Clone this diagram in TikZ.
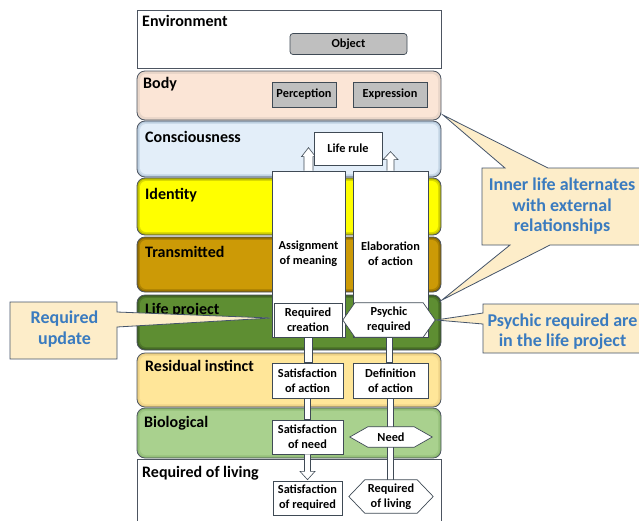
\documentclass[tikz,border=0pt]{standalone}
\usepackage{fontspec}
\setmainfont{Carlito}
\usetikzlibrary{calc}
\definecolor{bodyc}{HTML}{FBE5D6}
\definecolor{consc}{HTML}{E3EEF9}
\definecolor{consedge}{HTML}{B4C7DA}
\definecolor{idc}{HTML}{FFFF00}
\definecolor{idedge}{HTML}{B5B500}
\definecolor{trc}{HTML}{CC9A06}
\definecolor{tredge}{HTML}{8A6700}
\definecolor{lpc}{HTML}{5E8E32}
\definecolor{lpedge}{HTML}{3C5E20}
\definecolor{ric}{HTML}{FFE699}
\definecolor{riedge}{HTML}{E8CC80}
\definecolor{bioc}{HTML}{A9D18E}
\definecolor{bioedge}{HTML}{8DB872}
\definecolor{layeredge}{HTML}{4D5561}
\definecolor{edgec}{HTML}{3F4A55}
\definecolor{boxgray}{HTML}{BFBFBF}
\definecolor{callc}{HTML}{FDEDC9}
\definecolor{calledge}{HTML}{44546A}
\definecolor{calltxt}{HTML}{3A7BBF}
\tikzset{
  lab/.style={font=\fontsize{16}{19}\selectfont\bfseries, anchor=base west, inner sep=0},
  bx/.style={draw=edgec, line width=0.7pt, fill=white, align=center,
    font=\fontsize{12.3}{15}\selectfont\bfseries, inner sep=0},
  graybox/.style={bx, fill=boxgray},
  hexframe/.style={inner sep=0, draw=none},
  hexline/.style={draw=edgec, line width=0.7pt, fill=white},
  boxtxt/.style={align=center, font=\fontsize{12.3}{15}\selectfont\bfseries, inner sep=0},
  shaft/.style={fill=white, draw=edgec, line width=0.6pt},
  callout/.style={fill=callc, draw=calledge, line width=0.8pt},
  calltext/.style={font=\fontsize{18}{20.5}\selectfont\bfseries, text=calltxt, align=center, inner sep=0},
  layerline/.style={draw=layeredge, line width=0.8pt},
}
\newcommand{\band}[4]{%
  \fill[#4, rounded corners=8] (137,#1) rectangle (441,#2);
  \fill[#3!50!#4, rounded corners=7] (138.5,{#1+1.5}) rectangle (439.5,{#2-1.5});
  \fill[#3, rounded corners=6] (140,{#1+3}) rectangle (438,{#2-3});
  \draw[layerline, rounded corners=8] (137,#1) rectangle (441,#2);}
\newcommand{\hexpath}[2]{%
  \draw[hexline] (#1.west) -- ($(#1.north west)+(#2,0)$) -- ($(#1.north east)+(-#2,0)$)
    -- (#1.east) -- ($(#1.south east)+(-#2,0)$) -- ($(#1.south west)+(#2,0)$) -- cycle;}
\begin{document}
\begin{tikzpicture}[x=1pt,y=-1pt]
\path[use as bounding box] (0,0) rectangle (639,520);
\clip (0,0) rectangle (639,520);
\fill[white] (0,0) rectangle (639,520);

% layers
\draw[layerline, fill=white] (137,10) rectangle (441,68);
\band{71}{120}{bodyc}{bodyc!85!gray}
\band{121}{177}{consc}{consedge}
\band{178}{235}{idc}{idedge}
\band{237}{292}{trc}{tredge}
\band{295}{350}{lpc}{lpedge}
\band{353}{407}{ric}{riedge}
\band{408}{458}{bioc}{bioedge}
\draw[layerline, fill=white] (137,459) rectangle (441,530);

\node[lab] (lenv) at (142,26) {Environment};
\node[lab] (lbody) at (143,88) {Body};
\node[lab] (lcons) at (145,142) {Consciousness};
\node[lab] (lid) at (145,199) {Identity};
\node[lab] (ltr) at (145,257) {Transmitted};
\node[lab] (llp) at (145,314) {Life project};
\node[lab] (lri) at (145,371) {Residual instinct};
\node[lab] (lbio) at (144,427) {Biological};
\node[lab] (lrl) at (142,477) {Required of living};

% callouts
\draw[callout] (10,302) -- (117,302) -- (117,312) -- (271,318) -- (117,327) -- (117,359) -- (10,359) -- cycle;
\node[calltext] (cru) at (64.5,329) {Required\\update};
\draw[callout] (482,168) -- (505,168) -- (443,115) -- (548,168) -- (650,168) -- (650,245)
  -- (550,245) -- (442,300) -- (510,245) -- (482,245) -- cycle;
\node[calltext] (cin) at (562,206.5) {Inner life alternates\\with external\\relationships};
\draw[callout] (483,304) -- (650,304) -- (650,353) -- (483,353) -- (483,324) -- (436,320) -- (483,313) -- cycle;
\node[calltext] (cps) at (562.5,331.5) {Psychic required are\\in the life project};

% top boxes
\node[graybox, rounded corners=3, minimum width=117, minimum height=21] (obj) at (348.5,44) {Object};
\node[graybox, minimum width=64, minimum height=25] (perc) at (304,94.5) {Perception};
\node[graybox, minimum width=74, minimum height=25] (expr) at (390,94.5) {Expression};

% node frames (positions)
\coordinate (dummy) at (0,0);
\node[hexframe, minimum width=92, minimum height=34] (psyf) at (389,320) {};
\node[hexframe, minimum width=82, minimum height=20] (needf) at (391,437) {};
\node[hexframe, minimum width=84, minimum height=33] (rlf) at (391,496.5) {};

% up arrows (behind columns and life rule)
\node[bx, minimum width=73, minimum height=166] (assign) at (308.5,254) {Assignment\\of meaning};
\node[bx, minimum width=75, minimum height=166] (elab) at (390.5,254) {Elaboration\\of action};
\draw[shaft] ($(assign.north)+(-4.5,0)$) -- ($(assign.north)+(-4.5,-14)$) -- ($(assign.north)+(-7,-14)$)
  -- ($(assign.north)+(0,-23)$) -- ($(assign.north)+(7,-14)$) -- ($(assign.north)+(4.5,-14)$) -- ($(assign.north)+(4.5,0)$);
\draw[shaft] ($(elab.north)+(-3.5,0)$) -- ($(elab.north)+(-3.5,-11)$) -- ($(elab.north)+(-7.5,-11)$)
  -- ($(elab.north)+(0,-19)$) -- ($(elab.north)+(7.5,-11)$) -- ($(elab.north)+(3.5,-11)$) -- ($(elab.north)+(3.5,0)$);
\node[bx, minimum width=68, minimum height=33] (rule) at (348,148.5) {Life rule};

% lower boxes
\node[bx, minimum width=71, minimum height=35] (sata) at (307.5,380.5) {Satisfaction\\of action};
\node[bx, minimum width=75, minimum height=35] (defa) at (390.5,380.5) {Definition\\of action};
\node[bx, minimum width=71, minimum height=34] (satn) at (307.5,437) {Satisfaction\\of need};
\node[bx, minimum width=69, minimum height=34] (satr) at (307.5,498) {Satisfaction\\of required};

% shafts
\node[bx, minimum width=68, minimum height=34] (reqc) at (308,320) {Required\\creation};
\draw[shaft] ($(reqc.south)+(-4,0)$) rectangle ($(reqc.south |- sata.north)+(4,0)$);
\draw[shaft] ($(psyf.south)+(-3,0)$) rectangle ($(psyf.south |- defa.north)+(3,0)$);
\draw[shaft] ($(sata.south)+(-3,0)$) rectangle ($(sata.south |- satn.north)+(3,0)$);
\draw[shaft] ($(defa.south)+(-3,0)$) rectangle ($(defa.south |- rlf.north)+(3,0)$);
\draw[shaft] ($(satn.south)+(-3,0)$) -- ($(satn.south)+(-3,17)$) -- ($(satn.south)+(-7.5,17)$)
  -- ($(satr.north)+(0,-1)$) -- ($(satn.south)+(7.5,17)$) -- ($(satn.south)+(3,17)$) -- ($(satn.south)+(3,0)$);

% hexagons
\hexpath{psyf}{12}
\node[boxtxt] (psy) at (psyf) {Psychic\\required};
\hexpath{needf}{18}
\node[boxtxt] (need) at (needf) {Need};
\hexpath{rlf}{16}
\node[boxtxt] (rl) at (rlf) {Required\\of living};
\end{tikzpicture}
\end{document}
